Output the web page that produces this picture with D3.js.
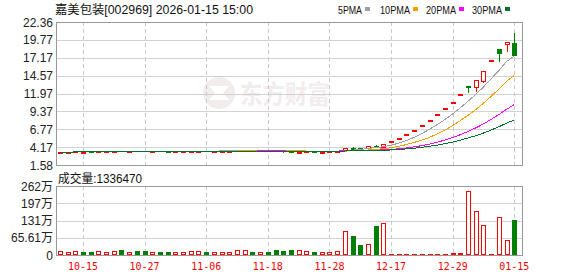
<!DOCTYPE html>
<html><head><meta charset="utf-8">
<script src="https://cdn.jsdelivr.net/npm/d3@7/dist/d3.min.js"></script>
<style>body{margin:0;background:#fff}svg{display:block}</style>
</head><body>
<svg id="chart" width="578" height="276"></svg>
<script>
// ---------- data ----------
const dates = ["10-10","10-13","10-14","10-15","10-16","10-17","10-20","10-21","10-22","10-23",
  "10-24","10-27","10-28","10-29","10-30","10-31","11-03","11-04","11-05","11-06",
  "11-07","11-10","11-11","11-12","11-13","11-14","11-17","11-18","11-19","11-20",
  "11-21","11-24","11-25","11-26","11-27","11-28","12-01","12-02","12-03","12-04",
  "12-05","12-08","12-09","12-17","12-18","12-19","12-22","12-23","12-24","12-25",
  "12-26","12-29","12-30","01-07","01-08","01-09","01-12","01-13","01-14","01-15"];
const opens = [3.42,3.44,3.45,3.51,3.54,3.52,3.55,3.56,3.62,3.58,
  3.63,3.60,3.57,3.58,3.56,3.54,3.55,3.56,3.59,3.63,
  3.61,3.62,3.63,3.70,3.69,3.72,3.68,3.68,3.64,3.58,
  3.55,3.49,3.53,3.55,3.53,3.54,3.57,3.76,4.09,3.98,
  4.09,4.36,4.24,5.05,5.55,6.10,6.71,7.38,8.12,8.93,
  9.82,10.80,11.88,13.07,12.90,13.85,16.78,18.46,19.10,19.30];
const highs = [3.45,3.47,3.58,3.57,3.55,3.57,3.58,3.62,3.65,3.64,
  3.66,3.61,3.59,3.59,3.57,3.56,3.57,3.62,3.64,3.64,
  3.63,3.64,3.70,3.74,3.75,3.73,3.70,3.69,3.65,3.59,
  3.56,3.55,3.56,3.56,3.55,3.56,3.62,4.10,4.15,4.02,
  4.36,4.45,4.59,5.05,5.55,6.10,6.71,7.38,8.12,8.93,
  9.82,10.80,11.88,13.07,13.95,15.25,16.78,18.46,19.50,20.80];
const lows = [3.41,3.42,3.44,3.50,3.50,3.51,3.53,3.55,3.57,3.57,
  3.59,3.56,3.55,3.55,3.53,3.53,3.54,3.55,3.58,3.60,
  3.60,3.61,3.62,3.66,3.68,3.66,3.66,3.63,3.57,3.54,
  3.49,3.48,3.52,3.52,3.52,3.53,3.55,3.72,3.92,3.88,
  4.05,4.22,4.20,5.05,5.55,6.10,6.71,7.38,8.12,8.93,
  9.82,10.80,11.88,12.15,12.30,13.70,16.78,16.75,18.20,17.60];
const closes = [3.44,3.45,3.55,3.54,3.52,3.55,3.56,3.60,3.58,3.62,
  3.60,3.57,3.58,3.56,3.54,3.55,3.56,3.60,3.63,3.61,
  3.62,3.63,3.68,3.70,3.72,3.68,3.69,3.64,3.58,3.55,
  3.50,3.53,3.55,3.53,3.54,3.55,3.60,4.08,3.96,3.94,
  4.34,4.30,4.59,5.05,5.55,6.10,6.71,7.38,8.12,8.93,
  9.82,10.80,11.88,12.85,13.86,15.25,16.78,17.80,19.50,17.60];
// volume in 万 shares
const volumes = [15,10,15,11,11,15,11,15,19,11,
  16,16,11,13,13,11,11,15,15,11,
  10,10,10,19,19,11,10,11,19,15,
  19,19,15,11,11,10,15,90,72,38,
  42,110,122,4,4,3,3,3,3,3,
  3,8,8,243,166,113,4,143,57,133.647];
const lastVolume = "1336470";
const priceTicks = [1.58,4.17,6.77,9.37,11.97,14.57,17.17,19.77,22.36];
const volTicks = [0,65.61,131.2,196.8,262.4];
const volTickLabels = ["0","65.61万","131万","197万","262万"];
const labelIdx = [3,11,19,27,35,43,51,59];
const maPeriods = [5,10,20,30];
const maNames = ["5PMA","10PMA","20PMA","30PMA"];
const title = "嘉美包装[002969] 2026-01-15 15:00";

// ---------- styles ----------
const RED = "#ff0000", GREEN = "#008000";
const maColors = ["#a0a0a0","#f0a000","#ff00ff","#006f30"];
const GRID = "#d2d2d2", BORDER = "#999999";
const CJK = "'Liberation Sans','Noto Sans CJK SC',sans-serif";

const svg = d3.select("#chart");
const L = 56, R = 522, PT = 22, PB = 165, VT = 186, VB = 255;

const x = d3.scaleLinear().domain([-0.5, 60]).range([L, R]);
const y = d3.scaleLinear().domain([priceTicks[0], priceTicks[priceTicks.length-1]]).range([PB, PT]);
const yv = d3.scaleLinear().domain([0, 262.4]).range([VB, VT]);
const px = v => Math.round(v);

// watermark
const wm = svg.append("g");
wm.append("circle").attr("cx", 219).attr("cy", 93).attr("r", 16).attr("fill", "#f2ecec");
wm.append("path").attr("d", "M209 86 L229 86 L223 93 L229 100 L209 100 L215 93 Z").attr("fill", "#ffffff");
wm.append("text").attr("x", 240).attr("y", 104).text("东方财富")
  .attr("font-family", "'Noto Sans CJK SC',sans-serif").attr("font-weight", "bold")
  .attr("font-size", 26).attr("fill", "#f2ecec").attr("textLength", 90).attr("lengthAdjust", "spacingAndGlyphs");

// horizontal grid (price)
svg.append("g").selectAll("line").data(priceTicks).join("line")
  .attr("x1", L).attr("x2", R)
  .attr("y1", d => px(y(d)) + 0.5).attr("y2", d => px(y(d)) + 0.5)
  .attr("stroke", GRID).attr("shape-rendering", "crispEdges");
// horizontal grid (volume)
svg.append("g").selectAll("line").data(volTicks).join("line")
  .attr("x1", L).attr("x2", R)
  .attr("y1", d => px(yv(d)) + 0.5).attr("y2", d => px(yv(d)) + 0.5)
  .attr("stroke", GRID).attr("shape-rendering", "crispEdges");
// vertical dashed grid
[[PT, PB], [VT, VB]].forEach(([t, b]) => {
  svg.append("g").selectAll("line").data(labelIdx).join("line")
    .attr("x1", d => px(x(d)) + 0.5).attr("x2", d => px(x(d)) + 0.5)
    .attr("y1", t).attr("y2", b)
    .attr("stroke", "#c8c8c8").attr("stroke-dasharray", "4,3")
    .attr("shape-rendering", "crispEdges");
});

// candles
const cg = svg.append("g").attr("shape-rendering", "crispEdges");
closes.forEach((c, i) => {
  const o = opens[i], h = highs[i], l = lows[i];
  const cx = px(x(i));
  const up = c >= o;
  const col = up ? RED : GREEN;
  const top = px(y(Math.max(o, c))), bot = px(y(Math.min(o, c)));
  cg.append("line").attr("x1", cx + 0.5).attr("x2", cx + 0.5)
    .attr("y1", px(y(h))).attr("y2", px(y(l)) + 1).attr("stroke", col);
  if (up) {
    cg.append("rect").attr("x", cx - 2 + 0.5).attr("y", top + 0.5)
      .attr("width", 4).attr("height", Math.max(1, bot - top))
      .attr("fill", "#fff").attr("stroke", col);
  } else {
    cg.append("rect").attr("x", cx - 2).attr("y", top)
      .attr("width", 5).attr("height", Math.max(1, bot - top + 1))
      .attr("fill", col);
  }
});

// moving averages (drawn over the candles)
const ma = p => closes.map((c, i) => d3.mean(closes.slice(Math.max(0, i - p + 1), i + 1)));
const line = d3.line().x((d, i) => x(i)).y(d => y(d));
maPeriods.forEach((p, idx) => {
  svg.append("path").datum(ma(p)).attr("d", line)
    .attr("fill", "none").attr("stroke", maColors[idx]).attr("stroke-width", 1)
    .attr("shape-rendering", "crispEdges");
});

// volume bars (colour by change vs previous close)
const vg = svg.append("g").attr("shape-rendering", "crispEdges");
volumes.forEach((v, i) => {
  const cx = px(x(i));
  const up = i === 0 ? closes[0] >= opens[0] : closes[i] >= closes[i - 1];
  const top = px(yv(v));
  const hgt = Math.max(1, VB - top);
  if (up) {
    vg.append("rect").attr("x", cx - 2 + 0.5).attr("y", VB - hgt + 0.5)
      .attr("width", 4).attr("height", Math.max(1, hgt - 1))
      .attr("fill", "#fff").attr("stroke", RED);
  } else {
    vg.append("rect").attr("x", cx - 2).attr("y", VB - hgt)
      .attr("width", 5).attr("height", hgt).attr("fill", GREEN);
  }
});

// borders
[[PT, PB], [VT, VB]].forEach(([t, b]) => {
  svg.append("rect").attr("x", L + 0.5).attr("y", t + 0.5)
    .attr("width", R - L).attr("height", b - t)
    .attr("fill", "none").attr("stroke", BORDER).attr("shape-rendering", "crispEdges");
});

// y-axis labels (price)
svg.append("g").selectAll("text").data(priceTicks).join("text")
  .attr("x", 53).attr("y", d => y(d) + 4.5).attr("text-anchor", "end")
  .attr("font-family", CJK).attr("font-size", 12).attr("fill", "#222")
  .text(d => d.toFixed(2));
// y-axis labels (volume)
svg.append("g").selectAll("text").data(volTicks).join("text")
  .attr("x", 53).attr("y", d => yv(d) + 4.5).attr("text-anchor", "end")
  .attr("font-family", CJK).attr("font-size", 12).attr("fill", "#222")
  .text((d, i) => volTickLabels[i]);

// x labels
svg.append("g").selectAll("text").data(labelIdx).join("text")
  .attr("x", d => x(d) - 15).attr("y", 270)
  .attr("font-family", "'DejaVu Sans Mono',monospace").attr("font-size", 11)
  .attr("fill", RED).attr("textLength", 30).attr("lengthAdjust", "spacingAndGlyphs")
  .text(d => dates[d]);

// title
svg.append("text").attr("x", 55).attr("y", 14).text(title)
  .attr("font-family", CJK).attr("font-size", 12).attr("fill", "#111")
  .attr("textLength", 198).attr("lengthAdjust", "spacingAndGlyphs");

// legend
const legX = [338, 380, 426, 472], legW = [24, 30, 30, 30];
maNames.forEach((n, i) => {
  svg.append("text").attr("x", legX[i]).attr("y", 14).text(n)
    .attr("font-family", "'Liberation Sans',sans-serif").attr("font-size", 11).attr("fill", "#111")
    .attr("textLength", legW[i]).attr("lengthAdjust", "spacingAndGlyphs");
  svg.append("rect").attr("x", legX[i] + legW[i] + 3).attr("y", 7)
    .attr("width", 5).attr("height", 4).attr("fill", maColors[i]);
});

// volume title
svg.append("text").attr("x", 58).attr("y", 183).text("成交量:" + lastVolume)
  .attr("font-family", CJK).attr("font-size", 12).attr("fill", "#111")
  .attr("textLength", 84).attr("lengthAdjust", "spacingAndGlyphs");
</script>
</body></html>
